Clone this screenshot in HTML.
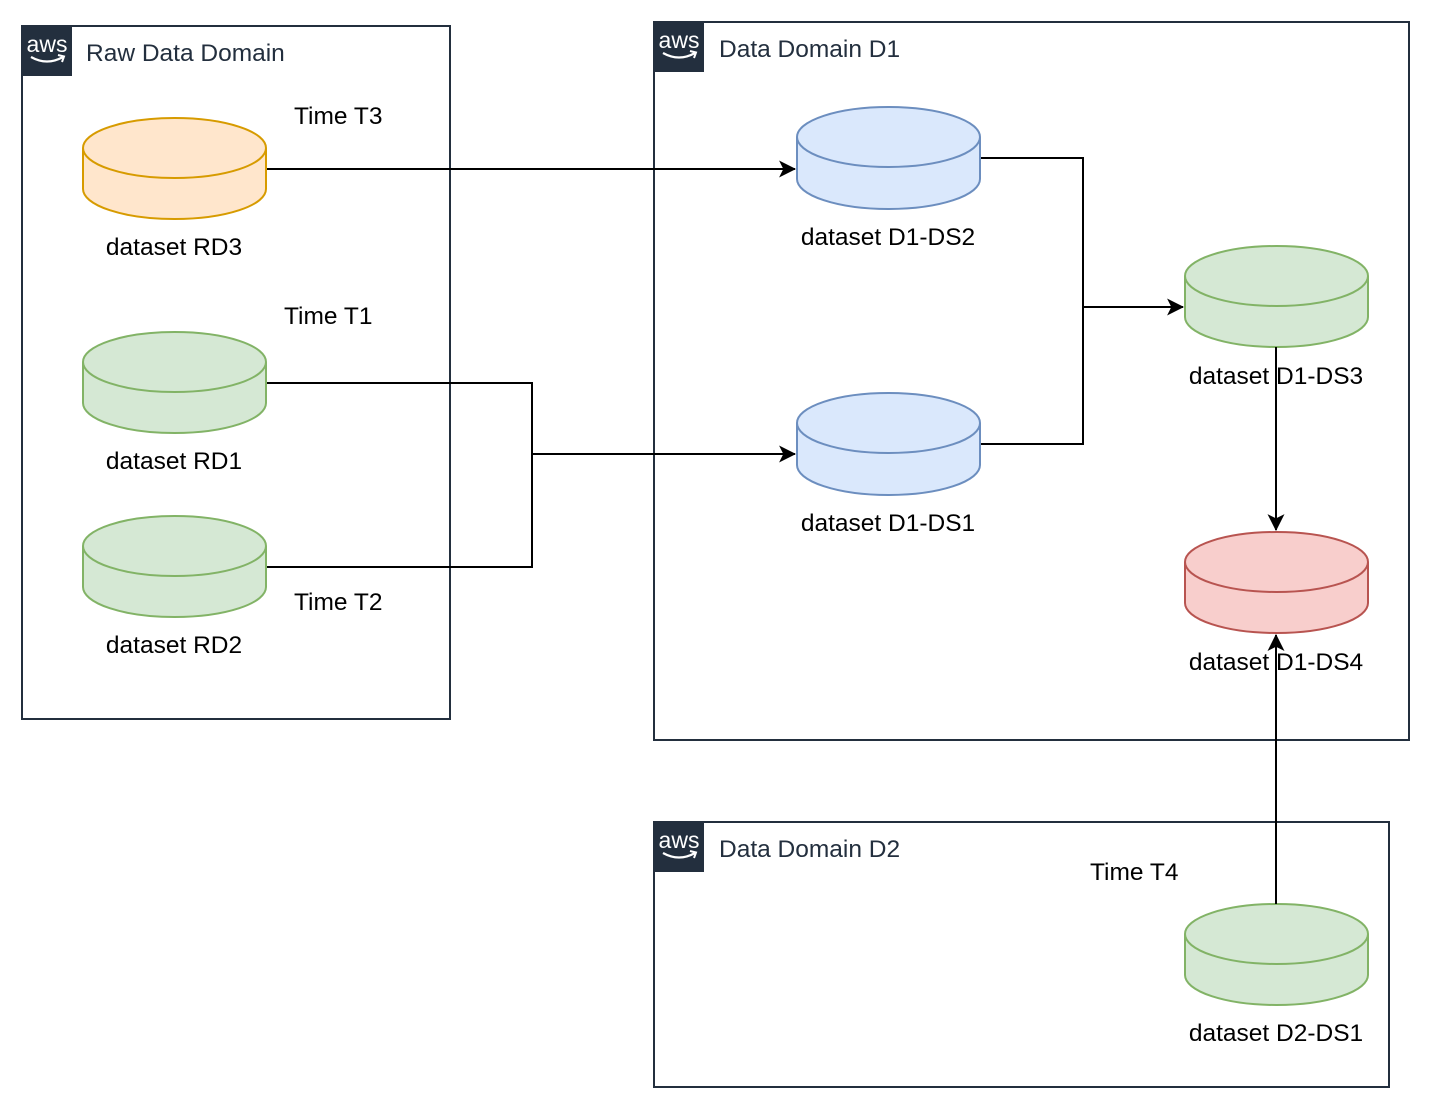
<!DOCTYPE html>
<html><head><meta charset="utf-8"><style>
html,body{margin:0;padding:0;background:#fff;}
svg{display:block;}
text{font-family:"Liberation Sans",Arial,sans-serif;}
</style></head><body>
<svg width="1431" height="1109" viewBox="0 0 1431 1109" xmlns="http://www.w3.org/2000/svg">
<defs>
<marker id="a" viewBox="0 0 16 16" refX="15" refY="8" markerWidth="17" markerHeight="17" markerUnits="userSpaceOnUse" orient="auto">
<path d="M0,0 L16,8 L0,16 L4,8 Z" fill="#000"/>
</marker>
<g id="aws">
<rect x="0" y="0" width="50" height="50" fill="#232f3e"/>
<text x="25" y="26" text-anchor="middle" fill="#fff" font-size="23">aws</text>
<path d="M9,31 Q25,40 41,31" stroke="#fff" stroke-width="2.2" fill="none"/>
<path d="M36,29 L42,30.5 L40,36" stroke="#fff" stroke-width="2" fill="none"/>
</g>
</defs>
<rect x="22" y="26" width="428" height="693" fill="none" stroke="#232f3e" stroke-width="2"/>
<use href="#aws" x="22" y="26"/>
<text x="86" y="61" font-size="24.5" fill="#232f3e">Raw Data Domain</text>

<rect x="654" y="22" width="755" height="718" fill="none" stroke="#232f3e" stroke-width="2"/>
<use href="#aws" x="654" y="22"/>
<text x="719" y="57" font-size="24.5" fill="#232f3e">Data Domain D1</text>

<rect x="654" y="822" width="735" height="265" fill="none" stroke="#232f3e" stroke-width="2"/>
<use href="#aws" x="654" y="822"/>
<text x="719" y="857" font-size="24.5" fill="#232f3e">Data Domain D2</text>

<g stroke="#000" stroke-width="2" fill="none">
<path d="M266,169 H795" marker-end="url(#a)"/>
<path d="M266,383 H532 V454 H795" marker-end="url(#a)"/>
<path d="M266,567 H532 V454"/>
<path d="M980,158 H1083 V307 H1183" marker-end="url(#a)"/>
<path d="M980,444 H1083 V307"/>
</g>

<g stroke-width="2">
<g fill="#ffe6cc" stroke="#d79b00">
<path d="M83,148 A91.5,30 0 0 1 266,148 V189 A91.5,30 0 0 1 83,189 Z"/><path d="M83,148 A91.5,30 0 0 0 266,148" fill="none"/>
</g>
<g fill="#d5e8d4" stroke="#82b366">
<path d="M83,362 A91.5,30 0 0 1 266,362 V403 A91.5,30 0 0 1 83,403 Z"/><path d="M83,362 A91.5,30 0 0 0 266,362" fill="none"/>
<path d="M83,546 A91.5,30 0 0 1 266,546 V587 A91.5,30 0 0 1 83,587 Z"/><path d="M83,546 A91.5,30 0 0 0 266,546" fill="none"/>
<path d="M1185,276 A91.5,30 0 0 1 1368,276 V317 A91.5,30 0 0 1 1185,317 Z"/><path d="M1185,276 A91.5,30 0 0 0 1368,276" fill="none"/>
<path d="M1185,934 A91.5,30 0 0 1 1368,934 V975 A91.5,30 0 0 1 1185,975 Z"/><path d="M1185,934 A91.5,30 0 0 0 1368,934" fill="none"/>
</g>
<g fill="#dae8fc" stroke="#6c8ebf">
<path d="M797,137 A91.5,30 0 0 1 980,137 V179 A91.5,30 0 0 1 797,179 Z"/><path d="M797,137 A91.5,30 0 0 0 980,137" fill="none"/>
<path d="M797,423 A91.5,30 0 0 1 980,423 V465 A91.5,30 0 0 1 797,465 Z"/><path d="M797,423 A91.5,30 0 0 0 980,423" fill="none"/>
</g>
<g fill="#f8cecc" stroke="#b85450">
<path d="M1185,562 A91.5,30 0 0 1 1368,562 V603 A91.5,30 0 0 1 1185,603 Z"/><path d="M1185,562 A91.5,30 0 0 0 1368,562" fill="none"/>
</g>
</g>

<g font-size="24.5" fill="#000" text-anchor="middle">
<text x="174" y="255">dataset RD3</text>
<text x="174" y="469">dataset RD1</text>
<text x="174" y="653">dataset RD2</text>
<text x="888" y="245">dataset D1-DS2</text>
<text x="888" y="531">dataset D1-DS1</text>
<text x="1276" y="384">dataset D1-DS3</text>
<text x="1276" y="670">dataset D1-DS4</text>
<text x="1276" y="1041">dataset D2-DS1</text>
</g>
<g font-size="24.5" fill="#000">
<text x="294" y="124">Time T3</text>
<text x="284" y="324">Time T1</text>
<text x="294" y="610">Time T2</text>
<text x="1090" y="880">Time T4</text>
</g>
<g stroke="#000" stroke-width="2" fill="none">
<path d="M1276,347 V530" marker-end="url(#a)"/>
<path d="M1276,904 V635" marker-end="url(#a)"/>
</g>
</svg>
</body></html>
